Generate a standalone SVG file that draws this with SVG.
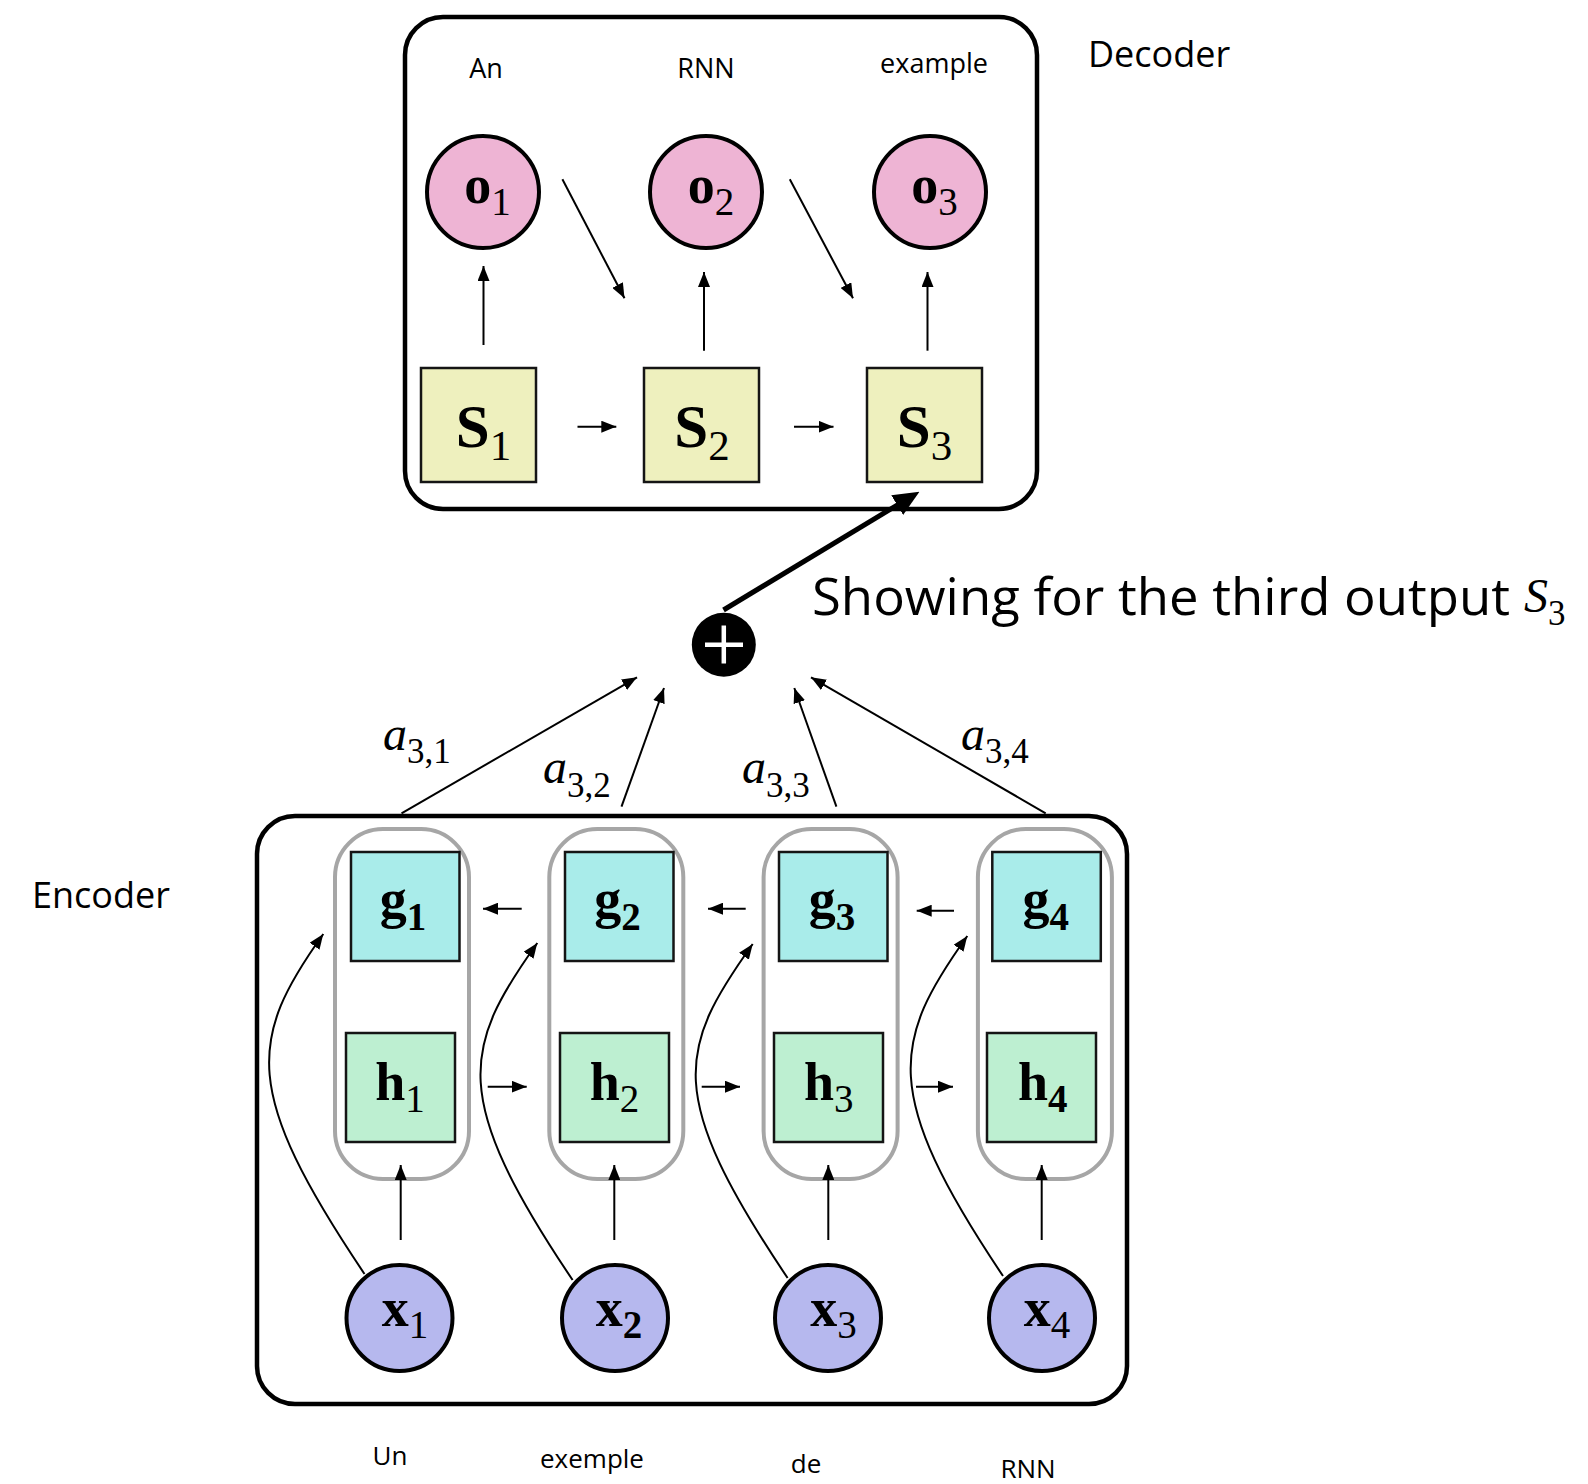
<svg xmlns="http://www.w3.org/2000/svg" width="1588" height="1484" viewBox="0 0 1588 1484">
  <defs>
    <marker id="arrow" markerUnits="userSpaceOnUse" markerWidth="15" markerHeight="12" viewBox="0 0 15 12" refX="15" refY="6" orient="auto">
      <path d="M0,0 L15,6 L0,12 Z" fill="#000"/>
    </marker>
    <marker id="arrowBig" markerUnits="userSpaceOnUse" markerWidth="26" markerHeight="23" viewBox="0 0 26 23" refX="18" refY="11.5" orient="auto">
      <path d="M0,0 L26,11.5 L0,23 Z" fill="#000"/>
    </marker>
  </defs>
  <style>
    .frame{fill:#fff;stroke:#000;stroke-width:4.5}
    .cell{fill:none;stroke:#a6a6a6;stroke-width:4}
    .box{stroke:#151515;stroke-width:2.5}
    .s{fill:#eef0be}
    .g{fill:#a9ecea}
    .h{fill:#bdefd1}
    .o{fill:#eeb4d4;stroke:#000;stroke-width:4}
    .x{fill:#b6b8ee;stroke:#000;stroke-width:4}
    .lab{font-family:'Liberation Serif','DejaVu Serif',serif;font-weight:bold;font-size:54px;text-anchor:middle;fill:#000}
    .lab.big{font-size:61px}
    .sub{font-family:'Liberation Serif','DejaVu Serif',serif;font-size:39px;font-weight:400;font-style:normal}
    .big .sub{font-size:43px}
    .sb{font-weight:700}
    .word{font-family:'Open Sans','Liberation Sans',sans-serif;font-size:26px;text-anchor:middle;fill:#000}
    .word.top{font-size:27px}
    .title{font-family:'Open Sans','Liberation Sans',sans-serif;font-size:36px;fill:#000}
    .note{font-family:'Open Sans','Liberation Sans',sans-serif;font-size:52px;fill:#000}
    .math{font-family:'Liberation Serif','DejaVu Serif',serif;font-style:italic;font-size:48px;fill:#000}
    .msub{font-family:'Liberation Serif','DejaVu Serif',serif;font-style:normal;font-weight:400;font-size:35px}
    .conn line,.conn path{stroke:#000;stroke-width:2;fill:none}
    .conn .thick{stroke-width:5}
  </style>
  <rect width="1588" height="1484" fill="#fff"/>

  <!-- containers -->
  <g id="decoder">
    <rect class="frame" x="405" y="17" width="632" height="492" rx="38"/>
    <text class="title" x="1088" y="67">Decoder</text>
  </g>
  <g id="encoder">
    <rect class="frame" x="257" y="816" width="870" height="588" rx="38"/>
    <text class="title" x="32" y="908">Encoder</text>
  </g>

  <!-- encoder cells grouping g_i and h_i -->
  <g id="cells">
    <rect class="cell" x="335" y="829" width="134" height="350" rx="48"/>
    <rect class="cell" x="549.3" y="829" width="134" height="350" rx="48"/>
    <rect class="cell" x="763.6" y="829" width="134" height="350" rx="48"/>
    <rect class="cell" x="977.9" y="829" width="134" height="350" rx="48"/>
  </g>

  <!-- connectors -->
  <g id="connectors" class="conn">
    <!-- decoder: state to output -->
    <line x1="483.5" y1="345" x2="483.5" y2="266" marker-end="url(#arrow)"/>
    <line x1="704" y1="350.7" x2="704" y2="272" marker-end="url(#arrow)"/>
    <line x1="927.5" y1="350.7" x2="927.5" y2="272" marker-end="url(#arrow)"/>
    <!-- decoder: output fed to next state -->
    <line x1="562.4" y1="179.3" x2="624.5" y2="298.3" marker-end="url(#arrow)"/>
    <line x1="789.8" y1="179.3" x2="853" y2="298.3" marker-end="url(#arrow)"/>
    <!-- decoder: state to state -->
    <line x1="577.5" y1="426.7" x2="616.3" y2="426.7" marker-end="url(#arrow)"/>
    <line x1="794" y1="426.7" x2="833.5" y2="426.7" marker-end="url(#arrow)"/>
    <!-- context into S3 -->
    <line class="thick" x1="723.5" y1="610" x2="912.6" y2="495.8" marker-end="url(#arrowBig)"/>
    <!-- attention weights -->
    <line x1="401.5" y1="813.3" x2="637" y2="677.3" marker-end="url(#arrow)"/>
    <line x1="621.5" y1="806.7" x2="664" y2="688" marker-end="url(#arrow)"/>
    <line x1="836.4" y1="806.7" x2="794.3" y2="688" marker-end="url(#arrow)"/>
    <line x1="1045.7" y1="813.3" x2="811" y2="677.3" marker-end="url(#arrow)"/>
    <!-- encoder: backward chain g -->
    <line x1="521.7" y1="908.7" x2="483" y2="908.7" marker-end="url(#arrow)"/>
    <line x1="745.7" y1="908.7" x2="708" y2="908.7" marker-end="url(#arrow)"/>
    <line x1="954" y1="910.7" x2="916.7" y2="910.7" marker-end="url(#arrow)"/>
    <!-- encoder: forward chain h -->
    <line x1="487.7" y1="1086.7" x2="526.7" y2="1086.7" marker-end="url(#arrow)"/>
    <line x1="701.7" y1="1086.7" x2="740" y2="1086.7" marker-end="url(#arrow)"/>
    <line x1="916" y1="1086.7" x2="953" y2="1086.7" marker-end="url(#arrow)"/>
    <!-- encoder: input to h -->
    <line x1="400.7" y1="1240" x2="400.7" y2="1165" marker-end="url(#arrow)"/>
    <line x1="614.3" y1="1240" x2="614.3" y2="1165" marker-end="url(#arrow)"/>
    <line x1="828.3" y1="1240" x2="828.3" y2="1165" marker-end="url(#arrow)"/>
    <line x1="1041.7" y1="1240" x2="1041.7" y2="1165" marker-end="url(#arrow)"/>
    <!-- encoder: input to g -->
    <path d="M364.5,1274 C241.5,1091 248.3,1039 323.3,934" marker-end="url(#arrow)"/>
    <path d="M572.6,1280 C449.6,1097 462.3,1048 537.3,943" marker-end="url(#arrow)"/>
    <path d="M787.6,1278 C664.6,1095 677.7,1049 752.7,944" marker-end="url(#arrow)"/>
    <path d="M1003,1276 C880,1093 892.3,1041 967.3,936" marker-end="url(#arrow)"/>
  </g>

  <!-- attention weight labels -->
  <g id="weights">
    <text class="math" x="383" y="750">a<tspan class="msub" dy="13">3,1</tspan></text>
    <text class="math" x="543" y="783">a<tspan class="msub" dy="14">3,2</tspan></text>
    <text class="math" x="742" y="783">a<tspan class="msub" dy="14">3,3</tspan></text>
    <text class="math" x="961" y="750">a<tspan class="msub" dy="13">3,4</tspan></text>
  </g>

  <!-- decoder outputs -->
  <g id="o1"><circle class="o" cx="483" cy="192" r="56"/><text class="lab" x="487.5" y="203">o<tspan class="sub" dy="12">1</tspan></text></g>
  <g id="o2"><circle class="o" cx="706" cy="192" r="56"/><text class="lab" x="711" y="203">o<tspan class="sub" dy="12">2</tspan></text></g>
  <g id="o3"><circle class="o" cx="930" cy="192" r="56"/><text class="lab" x="934.5" y="203">o<tspan class="sub" dy="12">3</tspan></text></g>

  <!-- decoder states -->
  <g id="s1"><rect class="box s" x="421" y="368" width="115" height="114"/><text class="lab big" x="483.5" y="447">S<tspan class="sub" dy="13">1</tspan></text></g>
  <g id="s2"><rect class="box s" x="644" y="368" width="115" height="114"/><text class="lab big" x="702" y="447">S<tspan class="sub" dy="13">2</tspan></text></g>
  <g id="s3"><rect class="box s" x="867" y="368" width="115" height="114"/><text class="lab big" x="924.5" y="447">S<tspan class="sub" dy="13">3</tspan></text></g>

  <!-- output words -->
  <g id="out-words">
    <text class="word top" x="486" y="78">An</text>
    <text class="word top" x="706" y="78">RNN</text>
    <text class="word top" x="934" y="73">example</text>
  </g>

  <!-- sum node -->
  <g id="sum">
    <circle cx="723.8" cy="644.7" r="32" fill="#000"/>
    <path d="M705,644.7 H743 M723.8,625.5 V663.5" stroke="#fff" stroke-width="4.5" fill="none"/>
  </g>
  <g id="caption">
    <text class="note" x="812" y="615" textLength="698" lengthAdjust="spacingAndGlyphs">Showing for the third output</text>
    <text class="math" x="1524" y="612">S<tspan class="msub" font-size="37" dy="13">3</tspan></text>
  </g>

  <!-- backward states -->
  <g id="g1"><rect class="box g" x="351" y="852" width="108.5" height="109"/><text class="lab" x="403" y="917">g<tspan class="sub sb" dy="13">1</tspan></text></g>
  <g id="g2"><rect class="box g" x="565" y="852" width="108.5" height="109"/><text class="lab" x="617.5" y="917">g<tspan class="sub sb" dy="13">2</tspan></text></g>
  <g id="g3"><rect class="box g" x="779" y="852" width="108.5" height="109"/><text class="lab" x="832" y="917">g<tspan class="sub sb" dy="13">3</tspan></text></g>
  <g id="g4"><rect class="box g" x="992.3" y="852" width="108.5" height="109"/><text class="lab" x="1045.8" y="917">g<tspan class="sub sb" dy="13">4</tspan></text></g>

  <!-- forward states -->
  <g id="h1"><rect class="box h" x="346" y="1033" width="109" height="109"/><text class="lab" x="400" y="1100">h<tspan class="sub" dy="12">1</tspan></text></g>
  <g id="h2"><rect class="box h" x="560" y="1033" width="109" height="109"/><text class="lab" x="614.5" y="1100">h<tspan class="sub" dy="12">2</tspan></text></g>
  <g id="h3"><rect class="box h" x="774" y="1033" width="109" height="109"/><text class="lab" x="828.8" y="1100">h<tspan class="sub" dy="12">3</tspan></text></g>
  <g id="h4"><rect class="box h" x="987" y="1033" width="109" height="109"/><text class="lab" x="1042.7" y="1100">h<tspan class="sub sb" dy="12">4</tspan></text></g>

  <!-- inputs -->
  <g id="x1"><circle class="x" cx="399.5" cy="1318" r="53"/><text class="lab" x="405" y="1326">x<tspan class="sub" dy="12">1</tspan></text></g>
  <g id="x2"><circle class="x" cx="615" cy="1318" r="53"/><text class="lab" x="619" y="1326">x<tspan class="sub sb" dy="12">2</tspan></text></g>
  <g id="x3"><circle class="x" cx="828" cy="1318" r="53"/><text class="lab" x="833.5" y="1326">x<tspan class="sub" dy="12">3</tspan></text></g>
  <g id="x4"><circle class="x" cx="1042" cy="1318" r="53"/><text class="lab" x="1047" y="1326">x<tspan class="sub" dy="12">4</tspan></text></g>

  <!-- input words -->
  <g id="in-words">
    <text class="word" x="390" y="1465">Un</text>
    <text class="word" x="592" y="1468">exemple</text>
    <text class="word" x="806" y="1473">de</text>
    <text class="word" x="1028" y="1478">RNN</text>
  </g>
</svg>
